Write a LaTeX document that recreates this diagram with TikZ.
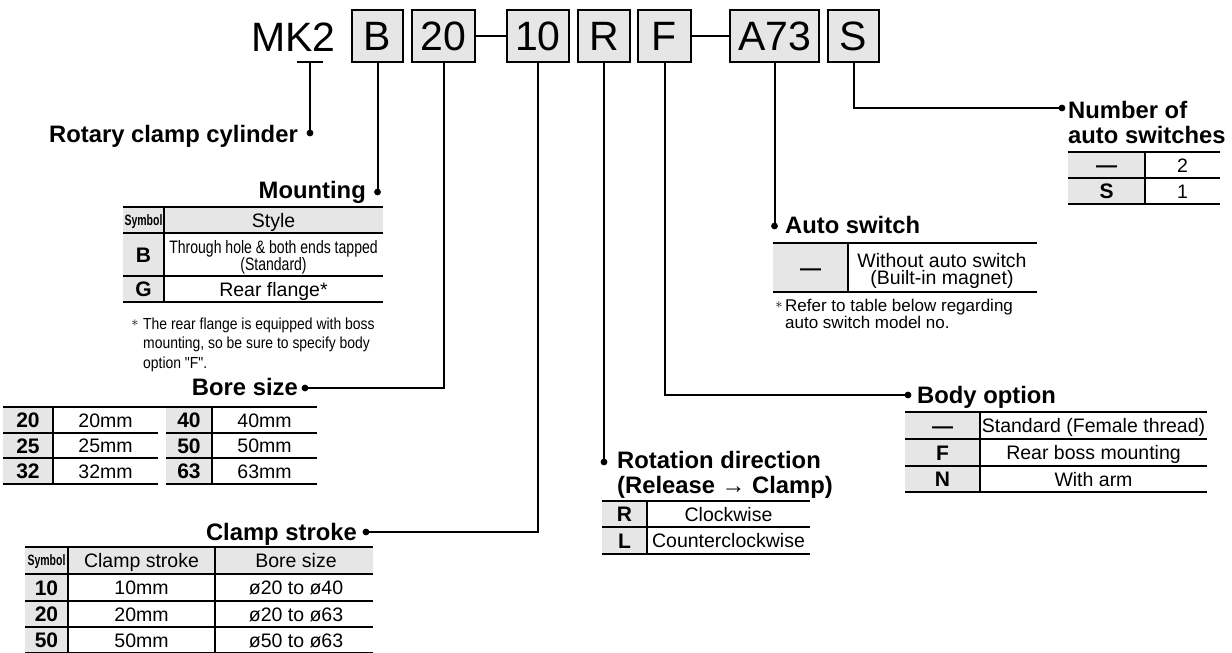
\documentclass[tikz,border=0pt]{standalone}
\usepackage{fontspec}
\setmainfont{Liberation Sans}
\newfontfamily\nara[FakeStretch=0.87]{Liberation Sans}
\newfontfamily\narb[FakeStretch=0.78]{Liberation Sans}
\newfontfamily\narc[FakeStretch=0.70]{Liberation Sans}
\newcommand{\fsz}[1]{\fontsize{#1}{#1}\selectfont}
\definecolor{cellgray}{HTML}{E6E6E6}
\begin{document}
\begin{tikzpicture}[x=1pt,y=-1pt,
 conn/.style={line width=2pt},
 cbox/.style={draw, line width=2.2pt, fill=cellgray, inner sep=0, minimum height=52pt, font=\fsz{41}, text height=29.4pt, text depth=0pt},
 lbl/.style={inner sep=0, font=\fsz{23.8}\bfseries},
 lbl2/.style={inner sep=0, align=left, anchor=north west, font=\fontsize{23.8}{25}\selectfont\bfseries},
 cell/.style={inner sep=0, font=\fsz{19.5}, text height=14pt, text depth=0pt},
 sym/.style={inner sep=0, font=\fsz{21}\bfseries, text height=15pt, text depth=0pt},
 hsym/.style={inner sep=0, font=\narc\fsz{15}\bfseries, text height=10.7pt, text depth=0pt},
 trule/.style={line width=2.8pt},
 rrule/.style={line width=1.1pt},
 ast/.style={inner sep=0, font=\fsz{14}},
]
\useasboundingbox (0,0) rectangle (1232,653);

% ---- code row
\node[inner sep=0, font=\fsz{41}, text height=29.4pt, text depth=0pt] (mk) at (293.5,37) {MK2};
\node[cbox, minimum width=51pt] (cB) at (377.5,36) {B};
\node[cbox, minimum width=63pt] (c20) at (443.5,36) {20};
\node[cbox, minimum width=62pt] (c10) at (538,36) {10};
\node[cbox, minimum width=52pt] (cR) at (604,36) {R};
\node[cbox, minimum width=53pt] (cF) at (664.5,36) {F};
\node[cbox, minimum width=89pt] (cA) at (774.5,36) {A73};
\node[cbox, minimum width=51pt] (cS) at (853.5,36) {S};
\draw[conn] (c20.east) -- (c10.west);
\draw[conn] (cF.east) -- (cA.west);

% ---- connector points
\coordinate (mkT) at (310,62);
\coordinate (dRot) at (310,133);
\coordinate (dMount) at (377.5,192);
\coordinate (dBore) at (305,388);
\coordinate (dClamp) at (366,532);
\coordinate (dRotn) at (604,462);
\coordinate (dBody) at (908,395);
\coordinate (dAuto) at (774.5,226);
\coordinate (dNum) at (1062,108);

\draw[conn] ([xshift=-13pt]mkT) -- ([xshift=13pt]mkT);
\draw[conn] (mkT) -- (dRot);
\draw[conn] (cB.south) -- (dMount);
\draw[conn] (c20.south) |- (dBore);
\draw[conn] (c10.south) |- (dClamp);
\draw[conn] (cR.south) -- (dRotn);
\draw[conn] (cF.south) |- (dBody);
\draw[conn] (cA.south) -- (dAuto);
\draw[conn] (cS.south) |- (dNum);
\foreach \d in {dRot,dMount,dBore,dClamp,dRotn,dBody,dAuto,dNum} \fill (\d) circle (3.4pt);

% ---- labels
\node[lbl, anchor=base east] (lRot) at (298,142) {Rotary clamp cylinder};
\node[lbl, anchor=base east] (lMount) at (366,198) {Mounting};
\node[lbl, anchor=base east] (lBore) at (298,395) {Bore size};
\node[lbl, anchor=base east] (lClamp) at (357,540) {Clamp stroke};
\node[lbl2] (lRotn) at (617,450.8) {Rotation direction\\(Release {\mdseries →} Clamp)};
\node[lbl, anchor=base west] (lAuto) at (785,233) {Auto switch};
\node[lbl, anchor=base west] (lBody) at (917,403) {Body option};
\node[lbl2] (lNum) at (1068,100.6) {Number of\\auto switches};

% ---- Mounting table
\fill[cellgray] (123,207) rectangle (383,233);
\fill[cellgray] (123,233) rectangle (164,302);
\draw[rrule] (164,207) -- (164,302);
\draw[rrule] (123,233) -- (383,233) (123,276) -- (383,276) (123,302) -- (383,302);
\draw[trule] (123,207) -- (383,207);
\node[hsym] (mh1) at (143.5,220) {Symbol};
\node[cell] (mh2) at (273.5,220) {Style};
\node[sym] (mB) at (143.5,255) {B};
\node[inner sep=0, align=center, anchor=north, font=\narb\fontsize{18}{17}\selectfont] (mB1) at (273.5,240.5) {Through hole \& both ends tapped\\(Standard)};
\node[sym] (mG) at (143.5,289) {G};
\node[cell] (mG1) at (273.5,289) {Rear flange*};
\node[ast] (mnA) at (135,323) {$\ast$};
\node[inner sep=0, align=left, anchor=north west, font=\nara\fontsize{16}{19.5}\selectfont] (mn) at (143,317.4) {The rear flange is equipped with boss\\mounting, so be sure to specify body\\option "F".};

% ---- Bore size table
\fill[cellgray] (3,407) rectangle (53,484);
\fill[cellgray] (166,407) rectangle (212,484);
\draw[rrule] (53,407) -- (53,484) (212,407) -- (212,484);
\draw[rrule] (3,433) -- (158,433) (166,433) -- (317,433)
             (3,458) -- (158,458) (166,458) -- (317,458)
             (3,484) -- (158,484) (166,484) -- (317,484);
\draw[trule] (3,407) -- (317,407);
\node[sym] (b1a) at (28,420) {20};   \node[cell] (b1b) at (105.5,420) {20mm};
\node[sym] (b1c) at (189,420) {40};  \node[cell] (b1d) at (264.5,420) {40mm};
\node[sym] (b2a) at (28,445.5) {25}; \node[cell] (b2b) at (105.5,445.5) {25mm};
\node[sym] (b2c) at (189,445.5) {50};\node[cell] (b2d) at (264.5,445.5) {50mm};
\node[sym] (b3a) at (28,471) {32};   \node[cell] (b3b) at (105.5,471) {32mm};
\node[sym] (b3c) at (189,471) {63};  \node[cell] (b3d) at (264.5,471) {63mm};

% ---- Clamp stroke table
\fill[cellgray] (25,547) rectangle (373,574);
\fill[cellgray] (25,574) rectangle (68,653);
\draw[rrule] (68,547) -- (68,653) (215,547) -- (215,653);
\draw[rrule] (25,574) -- (373,574) (25,601) -- (373,601) (25,627) -- (373,627) (25,652.4) -- (373,652.4);
\draw[trule] (25,547) -- (373,547);
\node[hsym] (ch1) at (46.5,560.5) {Symbol};
\node[cell] (ch2) at (141.5,560.5) {Clamp stroke};
\node[cell] (ch3) at (296,560.5) {Bore size};
\node[sym] (c1a) at (46.5,587.5) {10}; \node[cell] (c1b) at (141.5,587.5) {10mm}; \node[cell] (c1c) at (296,587.5) {ø20 to ø40};
\node[sym] (c2a) at (46.5,614) {20};   \node[cell] (c2b) at (141.5,614) {20mm};   \node[cell] (c2c) at (296,614) {ø20 to ø63};
\node[sym] (c3a) at (46.5,640) {50};   \node[cell] (c3b) at (141.5,640) {50mm};   \node[cell] (c3c) at (296,640) {ø50 to ø63};

% ---- Rotation direction table
\fill[cellgray] (602,501) rectangle (647,554);
\draw[rrule] (647,501) -- (647,554);
\draw[rrule] (602,527) -- (810,527) (602,554) -- (810,554);
\draw[trule] (602,501) -- (810,501);
\node[sym] (r1a) at (624.5,514) {R}; \node[cell] (r1b) at (728.5,514) {Clockwise};
\node[sym] (r2a) at (624.5,540.5) {L}; \node[cell] (r2b) at (728.5,540.5) {Counterclockwise};

% ---- Auto switch table
\fill[cellgray] (773,243) rectangle (848,292);
\draw[rrule] (848,243) -- (848,292);
\draw[rrule] (773,292) -- (1037,292);
\draw[trule] (773,243) -- (1037,243);
\node[sym] (a1a) at (810.5,267.5) {—};
\node[inner sep=0, align=center, anchor=north, font=\fontsize{19.5}{17.5}\selectfont] (a1b) at (942,253) {Without auto switch\\(Built-in magnet)};
\node[ast] (anA) at (779,305) {$\ast$};
\node[inner sep=0, align=left, anchor=north west, font=\fontsize{17}{17}\selectfont] (an) at (785,298.8) {Refer to table below regarding\\auto switch model no.};

% ---- Body option table
\fill[cellgray] (905,412) rectangle (980,492);
\draw[rrule] (980,412) -- (980,492);
\draw[rrule] (905,439) -- (1207,439) (905,466) -- (1207,466) (905,492) -- (1207,492);
\draw[trule] (905,412) -- (1207,412);
\node[sym] (o1a) at (942.5,425.5) {—}; \node[cell] (o1b) at (1093.5,425.5) {Standard (Female thread)};
\node[sym] (o2a) at (942.5,452.5) {F}; \node[cell] (o2b) at (1093.5,452.5) {Rear boss mounting};
\node[sym] (o3a) at (942.5,479) {N};   \node[cell] (o3b) at (1093.5,479) {With arm};

% ---- Number of auto switches table
\fill[cellgray] (1068,152) rectangle (1145,204);
\draw[rrule] (1145,152) -- (1145,204);
\draw[rrule] (1068,178) -- (1220,178) (1068,204) -- (1220,204);
\draw[trule] (1068,152) -- (1220,152);
\node[sym] (n1a) at (1106.5,165) {—}; \node[cell] (n1b) at (1182.5,165) {2};
\node[sym] (n2a) at (1106.5,191) {S}; \node[cell] (n2b) at (1182.5,191) {1};
\end{tikzpicture}
\end{document}
